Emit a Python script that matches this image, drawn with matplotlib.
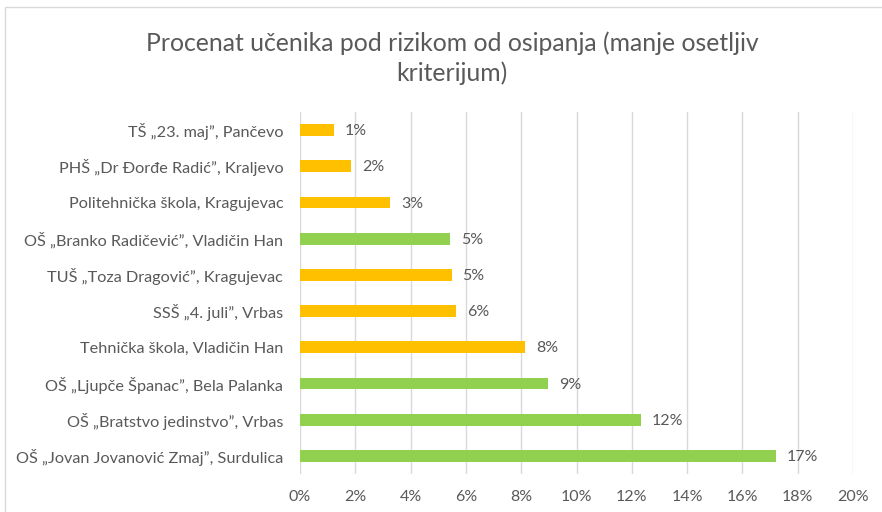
import matplotlib
matplotlib.use("Agg")
import matplotlib.pyplot as plt
from matplotlib.ticker import FuncFormatter, MultipleLocator
from matplotlib.patches import Rectangle

plt.rcParams['font.family'] = ['Lato', 'DejaVu Sans']

categories = [
    "OŠ „Jovan Jovanović Zmaj”, Surdulica",
    "OŠ „Bratstvo jedinstvo”, Vrbas",
    "OŠ „Ljupče Španac”, Bela Palanka",
    "Tehnička škola, Vladičin Han",
    "SSŠ „4. juli”, Vrbas",
    "TUŠ „Toza Dragović”, Kragujevac",
    "OŠ „Branko Radičević”, Vladičin Han",
    "Politehnička škola, Kragujevac",
    "PHŠ „Dr Đorđe Radić”, Kraljevo",
    "TŠ „23. maj”, Pančevo",
]
values = [17.2, 12.33, 8.97, 8.15, 5.63, 5.48, 5.42, 3.25, 1.84, 1.23]
labels = ["17%", "12%", "9%", "8%", "6%", "5%", "5%", "3%", "2%", "1%"]
school_type = ["OŠ", "OŠ", "OŠ", "SŠ", "SŠ", "SŠ", "OŠ", "SŠ", "SŠ", "SŠ"]
type_colors = {"OŠ": "#92D050", "SŠ": "#FFC000"}
title = "Procenat učenika pod rizikom od osipanja (manje osetljiv\nkriterijum)"

TXT = "#595959"

fig = plt.figure(figsize=(8.82, 5.12), dpi=100)
fig.patches.append(Rectangle((5/882, -0.1), 1.2, 1 - 7/512 + 0.1, transform=fig.transFigure,
                             fill=False, edgecolor="#D9D9D9", linewidth=1.0))
ax = fig.add_axes([300/882, 1 - 474/512, 553/882, (474 - 112)/512])

ypos = list(range(len(categories)))
colors = [type_colors[t] for t in school_type]
ax.barh(ypos, values, height=0.33, color=colors, zorder=3)
for y, v, l in zip(ypos, values, labels):
    ax.text(v + 0.4, y - 0.03, l, va="center", ha="left", fontsize=11.5, color=TXT)

ax.set_xlim(0, 20)
ax.set_ylim(-0.5, len(categories) - 0.5)
ax.set_yticks(ypos)
ax.set_yticklabels(categories)
ax.xaxis.set_major_locator(MultipleLocator(2))
ax.xaxis.set_major_formatter(FuncFormatter(lambda x, p: f"{x:.0f}%"))
ax.tick_params(axis="y", length=0, pad=12, labelsize=11.7, labelcolor=TXT)
ax.tick_params(axis="x", length=0, pad=11.5, labelsize=11.5, labelcolor=TXT)
ax.grid(axis="x", color="#D9D9D9", linewidth=1.0, zorder=0)
for s in ax.spines.values():
    s.set_visible(False)

fig.text(452/882, 1 - 58.5/512, title, ha="center", va="center", fontsize=17.8,
         color=TXT, linespacing=1.32)

fig.savefig("out.png", dpi=100)
